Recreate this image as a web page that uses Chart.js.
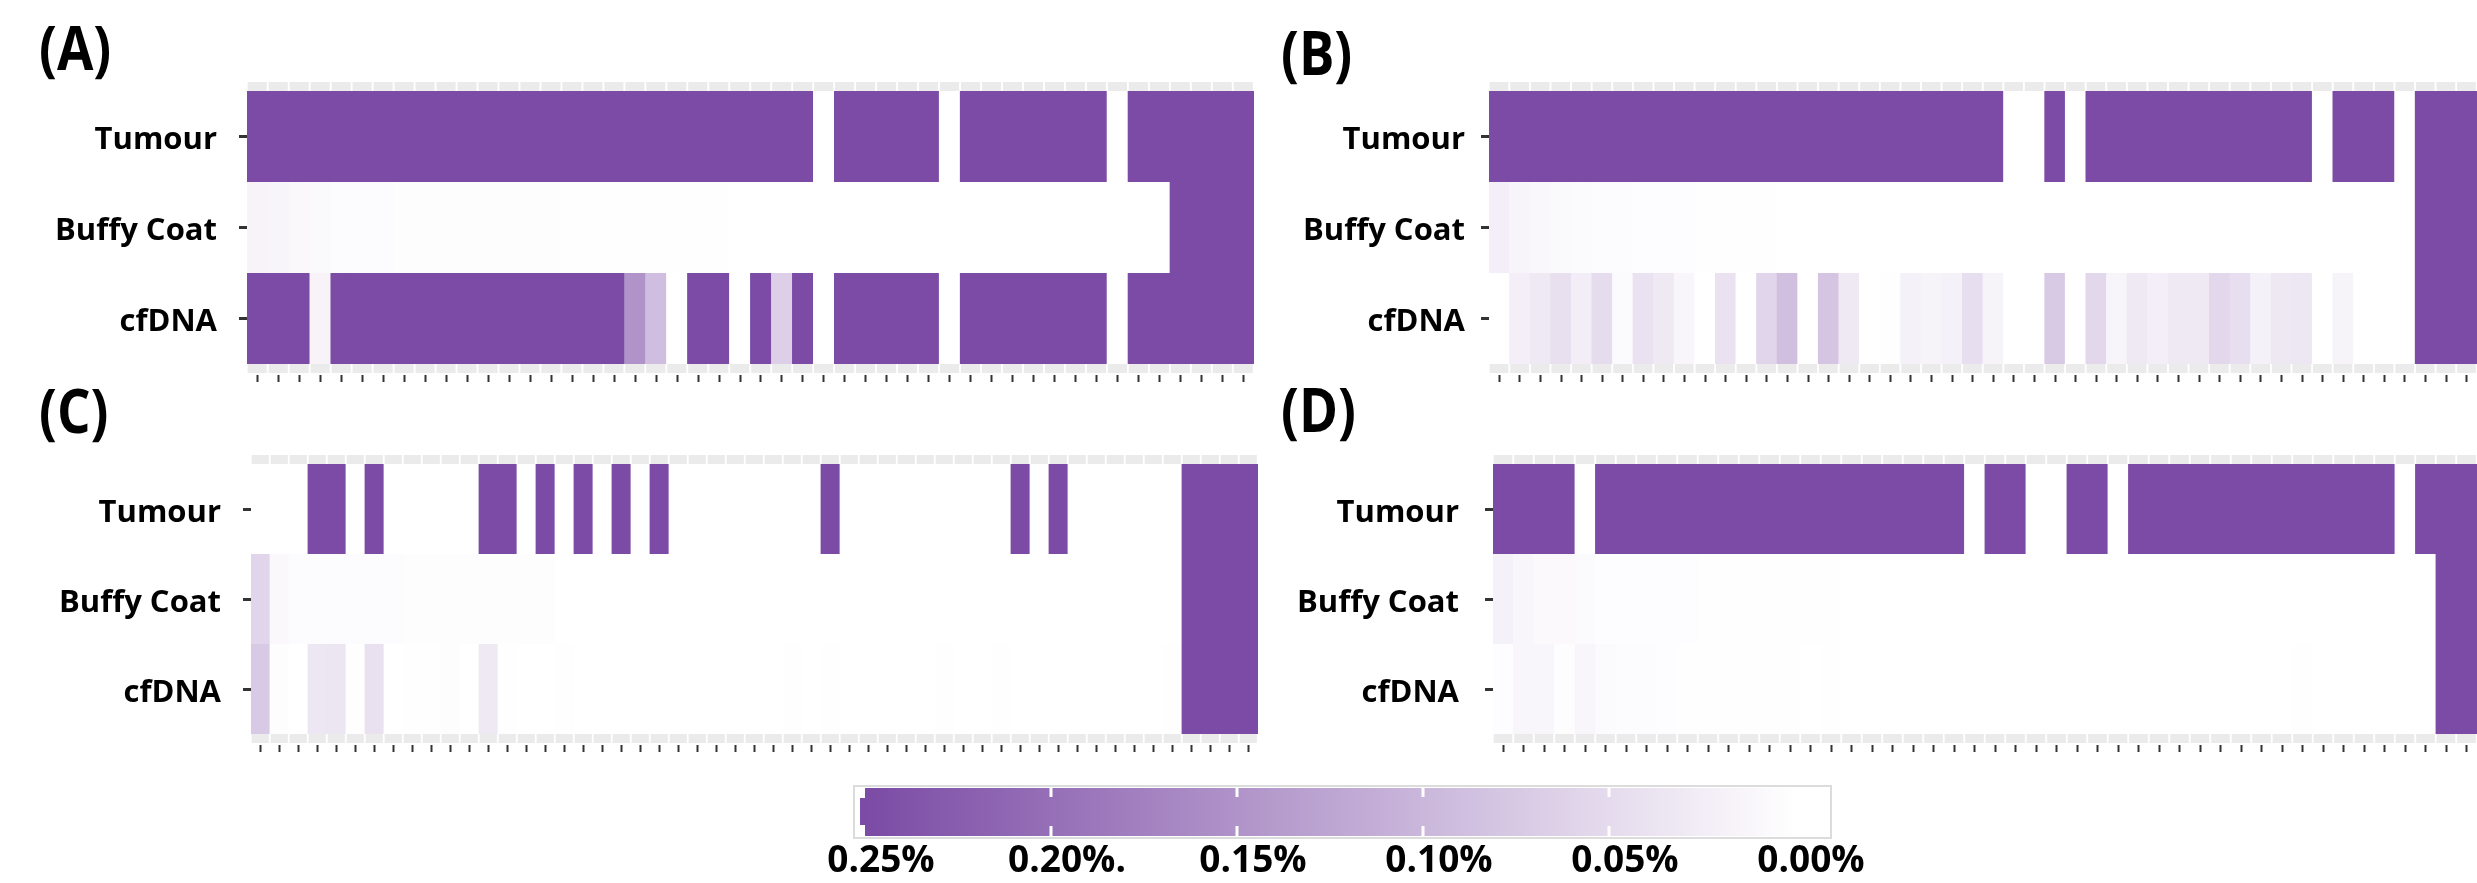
<!DOCTYPE html>
<html>
<head>
    <title>Heatmap panels A-D</title>
    <meta charset="utf-8" />
    <script src="https://cdn.jsdelivr.net/npm/chart.js"></script>
    <style>
        html, body {
            margin: 0;
            padding: 0;
            background: #fff;
            width: 2477px;
            height: 883px;
            overflow: hidden;
            position: relative;
        }
        canvas { position: absolute; }
        .tag {
            position: absolute;
            font-family: 'Open Sans', sans-serif;
            font-weight: 700;
            font-size: 60px;
            line-height: 60px;
            color: #000;
            transform: scaleX(0.88);
            transform-origin: left top;
        }
    </style>
</head>
<body>
    <div class="tag" style="left:39px;top:17px">(A)</div>
    <div class="tag" style="left:1281px;top:22px">(B)</div>
    <div class="tag" style="left:39px;top:380px">(C)</div>
    <div class="tag" style="left:1281px;top:379px">(D)</div>

    <canvas id="chartA" width="1254" height="311" style="left:0;top:76px"></canvas>
    <canvas id="chartB" width="1237" height="311" style="left:1240px;top:76px"></canvas>
    <canvas id="chartC" width="1258" height="308" style="left:0;top:449px"></canvas>
    <canvas id="chartD" width="1237" height="308" style="left:1240px;top:449px"></canvas>
    <canvas id="legend" width="1160" height="113" style="left:760px;top:770px"></canvas>

    <script>
        // rows, top to bottom
        const rowNames = ['Tumour', 'Buffy Coat', 'cfDNA'];

        // values in %, one per column (0.25 and above = full colour)
        const tumourA = [
            0.25, 0.25, 0.25, 0.25, 0.25, 0.25, 0.25, 0.25, 0.25, 0.25, 0.25, 0.25,
            0.25, 0.25, 0.25, 0.25, 0.25, 0.25, 0.25, 0.25, 0.25, 0.25, 0.25, 0.25,
            0.25, 0.25, 0.25, 0, 0.25, 0.25, 0.25, 0.25, 0.25, 0, 0.25, 0.25,
            0.25, 0.25, 0.25, 0.25, 0.25, 0, 0.25, 0.25, 0.25, 0.25, 0.25, 0.25
        ];
        const buffyA = [
            0.016, 0.015, 0.01, 0.009, 0.006, 0.005, 0.005, 0.003, 0.003, 0.003, 0.003, 0.003,
            0.003, 0.003, 0.003, 0.002, 0.002, 0.002, 0.002, 0.002, 0.002, 0.002, 0.002, 0,
            0, 0, 0, 0, 0, 0, 0, 0, 0, 0, 0, 0,
            0, 0, 0, 0, 0, 0, 0, 0, 0.25, 0.25, 0.25, 0.25
        ];
        const cfdnaA = [
            0.25, 0.25, 0.25, 0.016, 0.25, 0.25, 0.25, 0.25, 0.25, 0.25, 0.25, 0.25,
            0.25, 0.25, 0.25, 0.25, 0.25, 0.25, 0.15, 0.09, 0, 0.25, 0.25, 0,
            0.25, 0.066, 0.25, 0, 0.25, 0.25, 0.25, 0.25, 0.25, 0, 0.25, 0.25,
            0.25, 0.25, 0.25, 0.25, 0.25, 0, 0.25, 0.25, 0.25, 0.25, 0.25, 0.25
        ];

        const tumourB = [
            0.25, 0.25, 0.25, 0.25, 0.25, 0.25, 0.25, 0.25, 0.25, 0.25, 0.25, 0.25,
            0.25, 0.25, 0.25, 0.25, 0.25, 0.25, 0.25, 0.25, 0.25, 0.25, 0.25, 0.25,
            0.25, 0, 0, 0.25, 0, 0.25, 0.25, 0.25, 0.25, 0.25, 0.25, 0.25,
            0.25, 0.25, 0.25, 0.25, 0, 0.25, 0.25, 0.25, 0, 0.25, 0.25, 0.25
        ];
        const buffyB = [
            0.023, 0.015, 0.011, 0.009, 0.0075, 0.0055, 0.0055, 0.004, 0.004, 0.004, 0.002, 0.002,
            0.002, 0.002, 0, 0, 0, 0, 0, 0, 0, 0, 0, 0,
            0, 0, 0, 0, 0, 0, 0, 0, 0, 0, 0, 0,
            0, 0, 0, 0, 0, 0, 0, 0, 0, 0.25, 0.25, 0.25
        ];
        const cfdnaB = [
            0, 0.023, 0.03, 0.044, 0.025, 0.049, 0.007, 0.04, 0.03, 0.013, 0, 0.04,
            0, 0.059, 0.089, 0, 0.08, 0.03, 0, 0.002, 0.019, 0.017, 0.02, 0.045,
            0.017, 0, 0, 0.074, 0, 0.055, 0.015, 0.03, 0.023, 0.03, 0.03, 0.055,
            0.045, 0.019, 0.032, 0.034, 0, 0.017, 0, 0, 0, 0.25, 0.25, 0.25
        ];

        const tumourC = [
            0, 0, 0, 0.25, 0.25, 0, 0.25, 0, 0, 0, 0, 0,
            0.25, 0.25, 0, 0.25, 0, 0.25, 0, 0.25, 0, 0.25, 0, 0,
            0, 0, 0, 0, 0, 0, 0.25, 0, 0, 0, 0, 0,
            0, 0, 0, 0, 0.25, 0, 0.25, 0, 0, 0, 0, 0,
            0, 0.25, 0.25, 0.25, 0.25
        ];
        const buffyC = [
            0.058, 0.01, 0.006, 0.006, 0.006, 0.006, 0.006, 0.006, 0.003, 0.003, 0.003, 0.003,
            0.003, 0.003, 0.003, 0.003, 0, 0, 0, 0, 0, 0, 0, 0,
            0, 0, 0, 0, 0, 0, 0, 0, 0, 0, 0, 0,
            0, 0, 0, 0, 0, 0, 0, 0, 0, 0, 0, 0,
            0, 0.25, 0.25, 0.25, 0.25
        ];
        const cfdnaC = [
            0.074, 0.003, 0, 0.034, 0.036, 0.002, 0.042, 0, 0.002, 0.001, 0.003, 0,
            0.03, 0.001, 0, 0, 0.001, 0.0005, 0, 0, 0, 0, 0, 0,
            0, 0, 0, 0, 0.002, 0, 0.0015, 0, 0, 0, 0, 0,
            0.002, 0, 0, 0.001, 0, 0, 0, 0, 0, 0, 0, 0,
            0.0015, 0.25, 0.25, 0.25, 0.25
        ];

        const tumourD = [
            0.25, 0.25, 0.25, 0.25, 0, 0.25, 0.25, 0.25, 0.25, 0.25, 0.25, 0.25,
            0.25, 0.25, 0.25, 0.25, 0.25, 0.25, 0.25, 0.25, 0.25, 0.25, 0.25, 0,
            0.25, 0.25, 0, 0, 0.25, 0.25, 0, 0.25, 0.25, 0.25, 0.25, 0.25,
            0.25, 0.25, 0.25, 0.25, 0.25, 0.25, 0.25, 0.25, 0, 0.25, 0.25, 0.25
        ];
        const buffyD = [
            0.019, 0.012, 0.008, 0.008, 0.007, 0.004, 0.004, 0.004, 0.004, 0.004, 0.002, 0.002,
            0.002, 0.002, 0.002, 0.002, 0.002, 0, 0, 0, 0, 0, 0, 0,
            0, 0, 0, 0, 0, 0, 0, 0, 0, 0, 0, 0,
            0, 0, 0, 0, 0, 0, 0, 0, 0, 0, 0.25, 0.25
        ];
        const cfdnaD = [
            0.004, 0.012, 0.013, 0.003, 0.012, 0.007, 0.005, 0.006, 0.004, 0.001, 0.001, 0.001,
            0.001, 0.002, 0.002, 0, 0.002, 0, 0, 0, 0, 0, 0, 0,
            0, 0, 0, 0, 0, 0, 0, 0, 0, 0, 0, 0,
            0, 0, 0, 0.001, 0, 0, 0, 0, 0, 0, 0.25, 0.25
        ];

        // colour key
        const maxValue = 0.25;
        const scaleTicks = [0.25, 0.20, 0.15, 0.10, 0.05, 0.00];
        const scaleLabels = ['0.25%', '0.20%.', '0.15%', '0.10%', '0.05%', '0.00%'];

        const purple = [123, 75, 165];
        function colorFor(v) {
            const t = Math.max(0, Math.min(1, v / maxValue));
            const c = purple.map(p => Math.round(255 + (p - 255) * t));
            return `rgb(${c[0]},${c[1]},${c[2]})`;
        }

        const labelFont = { family: 'Open Sans', weight: 'bold', size: 31 };

        // keep the axis boxes at a fixed size, no auto padding for labels
        function fixBox(size) {
            return s => {
                if (s.isHorizontal()) s.height = size; else s.width = size;
                s.paddingTop = 0;
                s.paddingBottom = 0;
                s.paddingLeft = 0;
                s.paddingRight = 0;
            };
        }

        function heatmap(id, rows, o) {
            const strip = o.strip / o.row;
            const gap = o.gap / o.row;
            const nRows = rows.length;
            const cols = rows[0].map((_, i) => String(i + 1));

            // first row on top
            const cellSets = rows.map((vals, r) => {
                const k = nRows - 1 - r;
                return {
                    data: vals.map(() => [k, k + 1]),
                    backgroundColor: vals.map(colorFor),
                    borderWidth: 0,
                    barPercentage: 1.04,
                    categoryPercentage: 1
                };
            });
            const stripSet = (lo, hi) => ({
                data: cols.map(() => [lo, hi]),
                backgroundColor: '#ebebeb',
                borderColor: '#ffffff',
                borderWidth: { left: 1, right: 1.5, top: 0, bottom: 0 },
                borderSkipped: false,
                barPercentage: 1,
                categoryPercentage: 1
            });

            new Chart(document.getElementById(id), {
                type: 'bar',
                data: {
                    labels: cols,
                    datasets: [...cellSets, stripSet(nRows, nRows + strip), stripSet(-strip, 0)]
                },
                options: {
                    responsive: false,
                    animation: false,
                    devicePixelRatio: 1,
                    layout: { padding: { top: 6, bottom: 2, left: 0, right: 0 } },
                    plugins: { legend: { display: false }, tooltip: { enabled: false } },
                    scales: {
                        x: {
                            stacked: true,
                            offset: true,
                            grid: {
                                offset: false, drawOnChartArea: false, drawTicks: true,
                                tickLength: 7, tickWidth: 2, tickColor: '#333'
                            },
                            border: { display: false },
                            ticks: { display: false },
                            afterFit: fixBox(10)
                        },
                        y: {
                            min: -(strip + gap),
                            max: nRows + strip,
                            grid: {
                                drawOnChartArea: false, drawTicks: true,
                                tickLength: 8, tickWidth: 3, tickColor: '#333'
                            },
                            border: { display: false },
                            afterBuildTicks: s => {
                                s.ticks = rowNames.map((_, r) => ({ value: r + 0.5 }));
                            },
                            ticks: {
                                padding: o.pad,
                                labelOffset: 4,
                                color: '#000',
                                font: labelFont,
                                callback: v => rowNames[nRows - 1 - Math.floor(v)]
                            },
                            afterFit: fixBox(o.axis)
                        }
                    }
                }
            });
        }

        heatmap('chartA', [tumourA, buffyA, cfdnaA], { row: 91, strip: 9, gap: 2, axis: 247, pad: 22 });
        heatmap('chartB', [tumourB, buffyB, cfdnaB], { row: 91, strip: 9, gap: 2, axis: 249, pad: 16 });
        heatmap('chartC', [tumourC, buffyC, cfdnaC], { row: 90, strip: 9, gap: 2, axis: 251, pad: 22 });
        heatmap('chartD', [tumourD, buffyD, cfdnaD], { row: 90, strip: 9, gap: 2, axis: 253, pad: 26 });

        // frame, notch and white ticks of the colour key
        const keyDecor = {
            id: 'keyDecor',
            beforeDatasetsDraw(chart) {
                const { ctx, chartArea: a } = chart;
                ctx.save();
                ctx.strokeStyle = '#dcdcdc';
                ctx.lineWidth = 2;
                ctx.strokeRect(a.left - 11, a.top - 2, a.right - a.left + 12, a.bottom - a.top + 4);
                ctx.fillStyle = colorFor(maxValue);
                ctx.fillRect(a.left - 5, a.top + 10, 5, 27);
                ctx.restore();
            },
            afterDatasetsDraw(chart) {
                const { ctx, chartArea: a, scales: { x } } = chart;
                ctx.save();
                ctx.fillStyle = '#fff';
                scaleTicks.slice(1, -1).forEach(v => {
                    const px = x.getPixelForValue(v);
                    ctx.fillRect(px - 1.5, a.top, 3, 9);
                    ctx.fillRect(px - 1.5, a.bottom - 10, 3, 10);
                });
                ctx.restore();
            }
        };

        function keyGradient(chart) {
            const xs = chart.scales.x;
            const x0 = xs ? xs.getPixelForValue(maxValue) : NaN;
            const x1 = xs ? xs.getPixelForValue(0) : NaN;
            if (!isFinite(x0) || !isFinite(x1) || x0 === x1) return colorFor(maxValue);
            const g = chart.ctx.createLinearGradient(x0, 0, x1, 0);
            for (let i = 0; i <= 10; i++) {
                g.addColorStop(i / 10, colorFor(maxValue * (1 - i / 10)));
            }
            return g;
        }

        new Chart(document.getElementById('legend'), {
            type: 'bar',
            data: {
                labels: ['%'],
                datasets: [{
                    data: [[0, maxValue]],
                    backgroundColor: ctx => keyGradient(ctx.chart),
                    borderWidth: 0,
                    barPercentage: 1,
                    categoryPercentage: 1
                }]
            },
            options: {
                indexAxis: 'y',
                responsive: false,
                animation: false,
                devicePixelRatio: 1,
                layout: { padding: { top: 18, left: 105, right: 90, bottom: 0 } },
                plugins: { legend: { display: false }, tooltip: { enabled: false } },
                scales: {
                    y: { display: false },
                    x: {
                        type: 'linear',
                        reverse: true,
                        min: -0.0094,
                        max: maxValue,
                        grid: { display: false, drawTicks: false },
                        border: { display: false },
                        afterBuildTicks: s => { s.ticks = scaleTicks.map(v => ({ value: v })); },
                        ticks: {
                            autoSkip: false,
                            maxRotation: 0,
                            padding: 3,
                            labelOffset: 16,
                            color: '#000',
                            font: { family: 'Open Sans', weight: 'bold', size: 37 },
                            callback: (v, i) => scaleLabels[i]
                        },
                        afterFit: fixBox(47)
                    }
                }
            },
            plugins: [keyDecor]
        });
    </script>
</body>
</html>
